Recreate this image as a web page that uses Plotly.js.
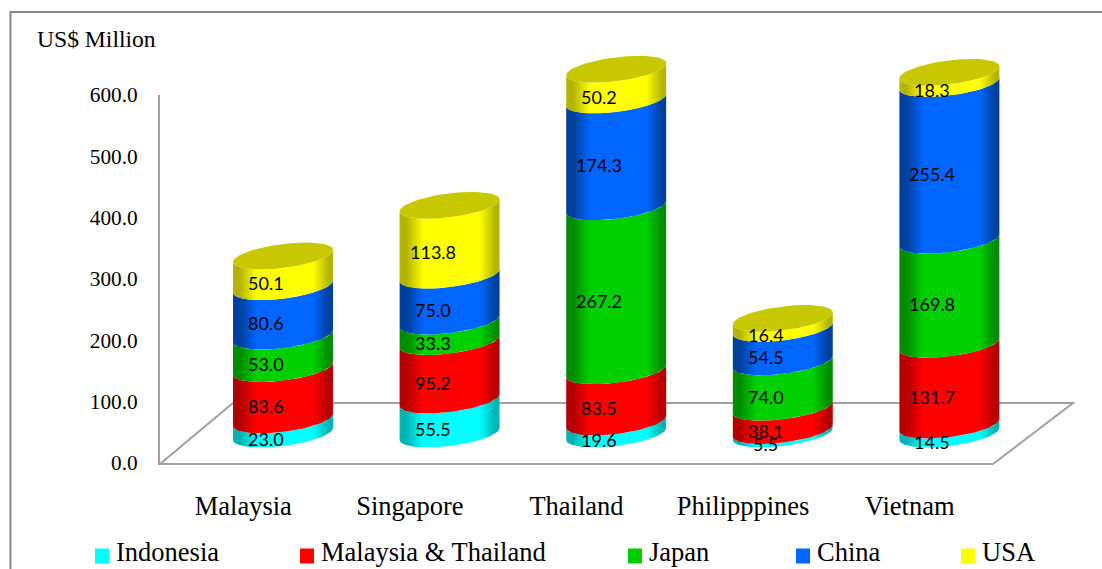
<!DOCTYPE html>
<html>
<head>
<meta charset="utf-8">
<title>Stacked cylinders by country</title>
<script src="https://cdn.plot.ly/plotly-3.0.1.min.js"></script>
<style>
  html, body { margin: 0; padding: 0; background: #fff; overflow: hidden; }
  #chart { width: 1102px; height: 569px; }
</style>
</head>
<body>
<div id="chart"></div>
<script>
// Values in US$ million, one array per stacked series
const categories = ['Malaysia', 'Singapore', 'Thailand', 'Philipppines', 'Vietnam'];
const indonesia = [23.0, 55.5, 19.6, 5.5, 14.5];
const malaysiaThailand = [83.6, 95.2, 83.5, 38.1, 131.7];
const japan = [53.0, 33.3, 267.2, 74.0, 169.8];
const china = [80.6, 75.0, 174.3, 54.5, 255.4];
const usa = [50.1, 113.8, 50.2, 16.4, 18.3];
const yTicks = [0, 100, 200, 300, 400, 500, 600];

const seriesNames = ['Indonesia', 'Malaysia & Thailand', 'Japan', 'China', 'USA'];
const seriesValues = [indonesia, malaysiaThailand, japan, china, usa];
const seriesColors = ['#00FFFF', '#FF0000', '#00D000', '#0066FF', '#FFFF00'];
const edgeColors = ['#00B4B4', '#B40000', '#008C00', '#00409C', '#B4B400'];
const swatchColors = ['#00FFFF', '#FF0000', '#00CC00', '#0066FF', '#FFFF00'];
const capColor = '#C8C800';
const swatchLeft = [95, 300, 628, 796, 961];
const legendTextLeft = [115, 320, 648, 816, 981];

const W = 1102, H = 569;
const px = v => v / W;
const py = v => 1 - v / H;

// Pixel frame of the labelled axes and of the raised cylinder axes
const plotLeft = 160, plotRight = 993, plotBottom = 463, plotTop = 95;
const pxPerUnit = (plotBottom - plotTop) / 600;
const pxPerCat = (plotRight - plotLeft) / 5;
const cylX0 = 283, cylY0 = 434, cylAreaTop = 40, cylAreaBottom = 470, cylAreaRight = 1040;

// Cylinder geometry in data units of the raised axes
const radiusX = 0.3, depthY = 19.5, tiltY = 9.8, ARC_STEPS = 40;

function frontArc(cx, level, reverse) {
  const xs = [], ys = [];
  for (let s = 0; s <= ARC_STEPS; s++) {
    const k = reverse ? ARC_STEPS - s : s;
    const t = Math.PI * (1 - k / ARC_STEPS);
    xs.push(cx + radiusX * Math.cos(t));
    ys.push(level - depthY * Math.sin(t) + tiltY * Math.cos(t));
  }
  return { xs, ys };
}

function fullEllipse(cx, level) {
  const xs = [], ys = [];
  for (let s = 0; s <= 2 * ARC_STEPS; s++) {
    const t = Math.PI * s / ARC_STEPS;
    xs.push(cx + radiusX * Math.cos(t));
    ys.push(level - depthY * Math.sin(t) + tiltY * Math.cos(t));
  }
  return { xs, ys };
}

function cylinderShade(edge, face) {
  return [[0, edge], [0.07, edge], [0.24, face], [0.8, face], [0.96, edge], [1, edge]];
}

const running = categories.map(() => 0);
const annotations = [];
const cylinderTraces = [];

seriesValues.forEach((values, si) => {
  values.forEach((value, ci) => {
    const low = running[ci], high = low + value;
    const lower = frontArc(ci, low, false);
    const upper = frontArc(ci, high, true);
    cylinderTraces.push({
      type: 'scatter', mode: 'lines', xaxis: 'x2', yaxis: 'y2',
      name: seriesNames[si], legendgroup: seriesNames[si], showlegend: false,
      hoverinfo: 'skip',
      x: lower.xs.concat(upper.xs), y: lower.ys.concat(upper.ys),
      line: { width: 0 }, fill: 'toself',
      fillgradient: { type: 'horizontal', colorscale: cylinderShade(edgeColors[si], seriesColors[si]) }
    });
    annotations.push({
      xref: 'x2', yref: 'y2', x: ci, y: (low + high) / 2,
      text: value.toFixed(1), showarrow: false, xshift: -17, yshift: -12,
      font: { family: 'Lato, "Open Sans", sans-serif', size: 18, color: '#000' }
    });
    running[ci] = high;
  });
});

// Top faces of the stacks
running.forEach((total, ci) => {
  const cap = fullEllipse(ci, total);
  cylinderTraces.push({
    type: 'scatter', mode: 'lines', xaxis: 'x2', yaxis: 'y2', showlegend: false,
    hoverinfo: 'skip', x: cap.xs, y: cap.ys, line: { width: 0 }, fill: 'toself', fillcolor: capColor
  });
});

// Carries the labelled axes; the totals themselves are shown by the cylinders
const axisTrace = {
  type: 'scatter', mode: 'none', xaxis: 'x', yaxis: 'y', showlegend: false, hoverinfo: 'skip',
  x: categories.map((_, i) => i), y: running.slice()
};

const serif = '"Liberation Serif", "Times New Roman", serif';

annotations.push({
  xref: 'paper', yref: 'paper', x: px(36), y: py(39), xanchor: 'left', yanchor: 'middle',
  text: 'US$ Million', showarrow: false, xpad: 0, borderpad: 0, font: { family: serif, size: 23.6, color: '#000' }
});

const shapes = [
  // Outer frame
  { type: 'path', xref: 'paper', yref: 'paper', layer: 'below',
    path: `M ${px(10.5)} 0 L ${px(10.5)} ${py(12)} L 1 ${py(12)}`,
    line: { color: '#868686', width: 2 } },
  // Floor of the chart, behind the cylinders
  { type: 'path', xref: 'paper', yref: 'paper', layer: 'below',
    path: `M ${px(160)} ${py(464)} L ${px(233)} ${py(403)} L ${px(1073)} ${py(403)} L ${px(993)} ${py(464)}`,
    line: { color: '#A0A0A0', width: 2 } }
];

seriesNames.forEach((name, i) => {
  shapes.push({
    type: 'rect', xref: 'paper', yref: 'paper', line: { width: 0 }, fillcolor: swatchColors[i],
    x0: px(swatchLeft[i]), x1: px(swatchLeft[i] + 14), y0: py(563.5), y1: py(548.5)
  });
  annotations.push({
    xref: 'paper', yref: 'paper', x: px(legendTextLeft[i]), y: py(552), xanchor: 'left', yanchor: 'middle',
    text: name, showarrow: false, xpad: 0, borderpad: 0, font: { family: serif, size: 26.5, color: '#000' }
  });
});

const layout = {
  width: W, height: H, margin: { l: 0, r: 0, t: 0, b: 0 },
  paper_bgcolor: '#fff', plot_bgcolor: 'rgba(0,0,0,0)', showlegend: false,
  xaxis: {
    domain: [px(plotLeft), px(plotRight)], range: [-0.5, 4.5], anchor: 'y',
    tickvals: categories.map((_, i) => i), ticktext: categories,
    showgrid: false, zeroline: false, ticks: '', ticklabelstandoff: 18,
    showline: true, linecolor: '#A0A0A0', linewidth: 2,
    tickfont: { family: serif, size: 26.5, color: '#000' }
  },
  yaxis: {
    domain: [py(plotBottom), py(plotTop)], range: [0, 600], anchor: 'x',
    tickvals: yTicks, tickformat: '.1f',
    showgrid: false, zeroline: false, ticks: '', ticklabelstandoff: 16,
    showline: true, linecolor: '#A0A0A0', linewidth: 2,
    tickfont: { family: serif, size: 21.3, color: '#000' }
  },
  // Cylinders stand on the floor, so their axes are the labelled ones moved back and up
  xaxis2: {
    domain: [px(plotLeft), px(cylAreaRight)], anchor: 'y2', visible: false,
    range: [(plotLeft - cylX0) / pxPerCat, (cylAreaRight - cylX0) / pxPerCat]
  },
  yaxis2: {
    domain: [py(cylAreaBottom), py(cylAreaTop)], anchor: 'x2', visible: false,
    range: [(cylY0 - cylAreaBottom) / pxPerUnit, (cylY0 - cylAreaTop) / pxPerUnit]
  },
  shapes, annotations
};

Plotly.newPlot('chart', [axisTrace].concat(cylinderTraces), layout, { displayModeBar: false, responsive: false });
</script>
</body>
</html>
